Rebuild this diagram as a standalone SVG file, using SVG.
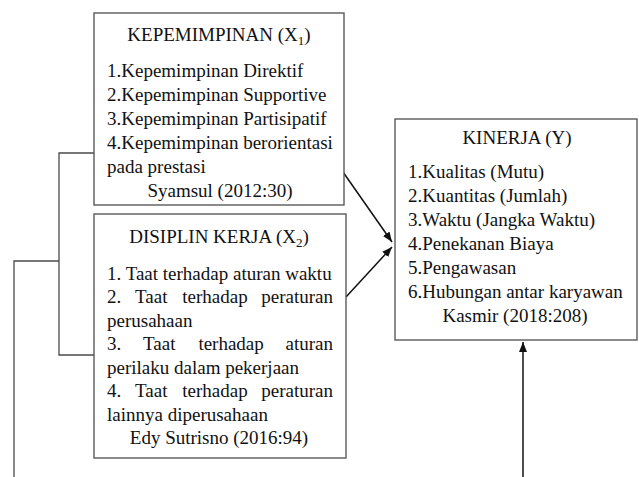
<svg xmlns="http://www.w3.org/2000/svg" width="639" height="477" viewBox="0 0 639 477">
<style>
.box{fill:#fff;stroke:#5a5a5a;stroke-width:1.4}
.t{font-family:'Liberation Serif','DejaVu Serif',serif;font-size:19px;fill:#111}
.c{text-anchor:middle}
.ln{fill:none;stroke:#4a4a4a;stroke-width:1.3}
.ar{fill:none;stroke:#111;stroke-width:1.5}
.sub{font-size:13px}
</style>
<defs>
<marker id="ah" viewBox="0 0 10 10" refX="10" refY="5" markerWidth="10" markerHeight="10" markerUnits="userSpaceOnUse" orient="auto">
<path d="M0,1 L10,5 L0,9 Z" fill="#111"/>
</marker>
</defs>
<rect width="639" height="477" fill="#fff"/>
<g id="connectors">
<polyline class="ln" points="100,153 59,153 59,355 94,355"/>
<polyline class="ln" points="59,261 14,261 14,477"/>
<line class="ar" x1="343" y1="172" x2="392" y2="242" marker-end="url(#ah)"/>
<line class="ar" x1="346" y1="297" x2="392" y2="247" marker-end="url(#ah)"/>
<line class="ar" x1="523" y1="477" x2="523" y2="342" marker-end="url(#ah)"/>
</g>
<g id="x1">
<rect class="box" x="94" y="13" width="250" height="192"/>
<text class="t c" x="219" y="41" font-family="Liberation Serif, serif">KEPEMIMPINAN (X<tspan class="sub" dy="4">1</tspan><tspan dy="-4">)</tspan></text>
<text class="t" x="107" y="77">1.Kepemimpinan Direktif</text>
<text class="t" x="107" y="101">2.Kepemimpinan Supportive</text>
<text class="t" x="107" y="125">3.Kepemimpinan Partisipatif</text>
<text class="t" x="107" y="149">4.Kepemimpinan berorientasi</text>
<text class="t" x="107" y="173">pada prestasi</text>
<text class="t c" x="220" y="197">Syamsul (2012:30)</text>
</g>
<g id="x2">
<rect class="box" x="94" y="214" width="252" height="244"/>
<text class="t c" x="219" y="243">DISIPLIN KERJA (X<tspan class="sub" dy="4">2</tspan><tspan dy="-4">)</tspan></text>
<text class="t" x="107" y="280">1. Taat terhadap aturan waktu</text>
<text class="t" y="303"><tspan x="107">2.</tspan><tspan x="135">Taat</tspan><tspan x="182.3">terhadap</tspan><tspan x="261.3">peraturan</tspan></text>
<text class="t" x="107" y="327">perusahaan</text>
<text class="t" y="350"><tspan x="107">3.</tspan><tspan x="143">Taat</tspan><tspan x="198.4">terhadap</tspan><tspan x="285.5">aturan</tspan></text>
<text class="t" x="107" y="374">perilaku dalam pekerjaan</text>
<text class="t" y="397"><tspan x="107">4.</tspan><tspan x="135">Taat</tspan><tspan x="182.3">terhadap</tspan><tspan x="261.3">peraturan</tspan></text>
<text class="t" x="107" y="421">lainnya diperusahaan</text>
<text class="t c" x="219" y="444">Edy Sutrisno (2016:94)</text>
</g>
<g id="y">
<rect class="box" x="395" y="119" width="242" height="221"/>
<text class="t c" x="517" y="144">KINERJA (Y)</text>
<text class="t" x="408" y="178">1.Kualitas (Mutu)</text>
<text class="t" x="408" y="202">2.Kuantitas (Jumlah)</text>
<text class="t" x="408" y="226">3.Waktu (Jangka Waktu)</text>
<text class="t" x="408" y="250">4.Penekanan Biaya</text>
<text class="t" x="408" y="274">5.Pengawasan</text>
<text class="t" x="408" y="298">6.Hubungan antar karyawan</text>
<text class="t c" x="515" y="322">Kasmir (2018:208)</text>
</g>
</svg>
